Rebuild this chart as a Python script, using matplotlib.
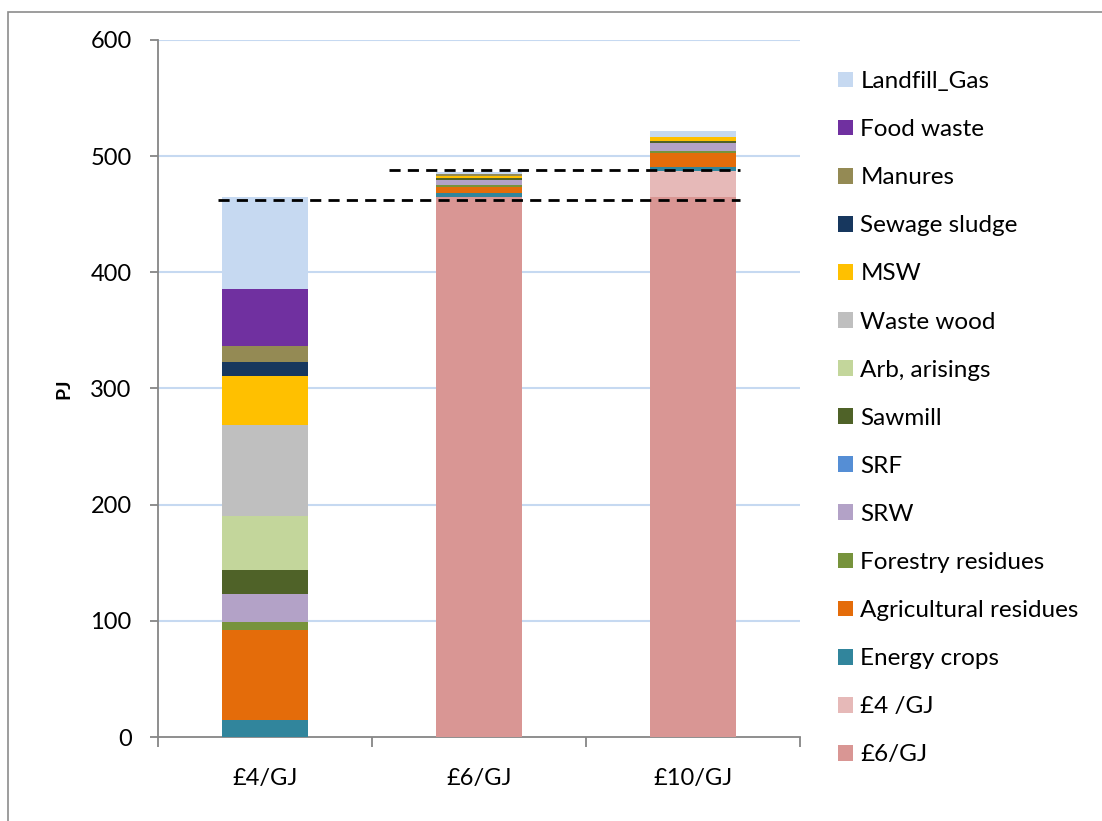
import matplotlib
matplotlib.use("Agg")
import matplotlib.pyplot as plt
from matplotlib.patches import Rectangle, Patch
import numpy as np

plt.rcParams['font.family'] = ['Lato', 'DejaVu Sans']

categories = ["£4/GJ", "£6/GJ", "£10/GJ"]

# Stack order, bottom to top
series_names = [
    "£6/GJ", "£4 /GJ", "Energy crops", "Agricultural residues",
    "Forestry residues", "SRW", "SRF", "Sawmill", "Arb, arisings",
    "Waste wood", "MSW", "Sewage sludge", "Manures", "Food waste",
    "Landfill_Gas",
]
gbp6 = [0, 465, 465]
gbp4 = [0, 0, 22.5]
energy_crops = [15, 3.4, 3.2]
agri_residues = [77, 5.2, 12.1]
forestry_residues = [7, 1.7, 1.7]
srw = [24, 4.6, 7.1]
srf = [0, 0, 0]
sawmill = [21, 1.7, 1.7]
arb_arisings = [46, 0, 0]
waste_wood = [79, 0, 0]
msw = [42, 1.7, 3.4]
sewage_sludge = [12, 0, 0]
manures = [14, 1.5, 0]
food_waste = [48.5, 0, 0]
landfill_gas = [79, 1.5, 4.9]

series_values = [
    gbp6, gbp4, energy_crops, agri_residues, forestry_residues, srw, srf,
    sawmill, arb_arisings, waste_wood, msw, sewage_sludge, manures,
    food_waste, landfill_gas,
]
series_colors = [
    "#D99694", "#E6B9B8", "#31859C", "#E46C0A", "#77933C", "#B3A2C7",
    "#558ED5", "#4F6228", "#C3D69B", "#BFBFBF", "#FFC000", "#17375E",
    "#948A54", "#7030A0", "#C6D9F1",
]

# Reference levels (dashed): level and x-extent
ref_levels = [462.3, 488.1]
ref_x_start = [-0.22, 0.58]
ref_x_end = [2.22, 2.22]

W, H = 1102, 821
fig = plt.figure(figsize=(W / 100, H / 100), dpi=100)
ax = fig.add_axes([158 / W, 1 - 737 / H, (800 - 158) / W, (737 - 40) / H])

x = np.arange(len(categories))
bottom = np.zeros(len(categories))
for name, vals, col in zip(series_names, series_values, series_colors):
    v = np.array(vals, dtype=float)
    ax.bar(x, v, width=0.40, bottom=bottom, color=col, linewidth=0, zorder=3)
    bottom += v

for lvl, xs, xe in zip(ref_levels, ref_x_start, ref_x_end):
    ax.plot([xs, xe], [lvl, lvl], color="black", lw=2, dashes=(4, 2.6),
            zorder=5, solid_capstyle="butt", dash_capstyle="butt")

ax.set_xlim(-0.5, 2.5)
ax.set_ylim(0, 600)
ax.set_yticks(np.arange(0, 601, 100))
ax.yaxis.grid(True, color="#C6D9F1", lw=1.5, zorder=0)
for gl in ax.yaxis.get_gridlines()[:1]:
    gl.set_visible(False)
ax.set_axisbelow(True)

ax.set_xticks(x)
ax.set_xticklabels(categories)
ax.set_xticks([-0.5, 0.5, 1.5, 2.5], minor=True)
ax.tick_params(axis="x", which="major", length=0, pad=22, labelsize=17)
ax.tick_params(axis="x", which="minor", length=7, width=1.3, color="#868686",
               direction="out")
ax.tick_params(axis="y", which="major", length=6, width=1.3, color="#868686",
               direction="out", pad=13, labelsize=17)

for s in ["top", "right"]:
    ax.spines[s].set_visible(False)
for s in ["left", "bottom"]:
    ax.spines[s].set_color("#868686")
    ax.spines[s].set_linewidth(1.3)

ax.set_ylabel("PJ", fontsize=14, fontweight="bold", labelpad=13)

handles = [Patch(facecolor=c, edgecolor="none") for c in series_colors][::-1]
labels = series_names[::-1]
fig.legend(handles, labels, loc="upper left",
           bbox_to_anchor=(838 / W, 1 - 71 / H), frameon=False,
           fontsize=17.5, handlelength=0.62, handleheight=0.62,
           handletextpad=0.3, labelspacing=1.115, borderpad=0,
           borderaxespad=0)

frame = Rectangle((8 / W, -0.05), 1.0, (1 - 12 / H) + 0.05,
                  transform=fig.transFigure, fill=False,
                  edgecolor="#8C8C8C", lw=1.2, clip_on=False)
fig.patches.append(frame)

fig.savefig("out.png", dpi=100)
